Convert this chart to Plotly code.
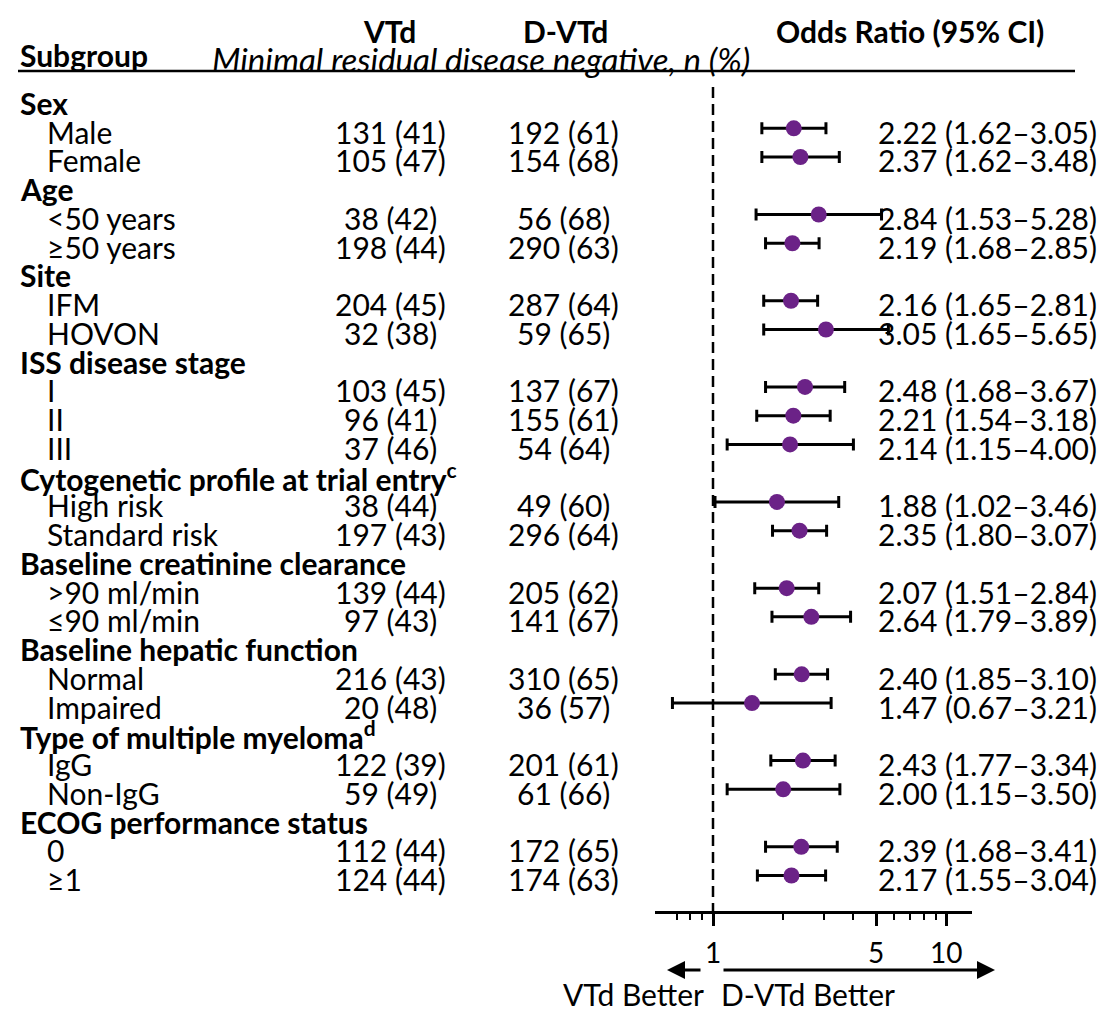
import plotly.graph_objects as go
import math

# ---------------- data ----------------
labels = ["Sex", "Male", "Female",
          "Age", "&lt;50 years", "≥50 years",
          "Site", "IFM", "HOVON",
          "ISS disease stage", "I", "II", "III",
          "Cytogenetic profile at trial entry<sup>c</sup>", "High risk", "Standard risk",
          "Baseline creatinine clearance", "&gt;90 ml/min", "≤90 ml/min",
          "Baseline hepatic function", "Normal", "Impaired",
          "Type of multiple myeloma<sup>d</sup>", "IgG", "Non-IgG",
          "ECOG performance status", "0", "≥1"]
is_header = [True, False, False,
             True, False, False,
             True, False, False,
             True, False, False, False,
             True, False, False,
             True, False, False,
             True, False, False,
             True, False, False,
             True, False, False]
vtd = ["", "131 (41)", "105 (47)",
       "", "38 (42)", "198 (44)",
       "", "204 (45)", "32 (38)",
       "", "103 (45)", "96 (41)", "37 (46)",
       "", "38 (44)", "197 (43)",
       "", "139 (44)", "97 (43)",
       "", "216 (43)", "20 (48)",
       "", "122 (39)", "59 (49)",
       "", "112 (44)", "124 (44)"]
dvtd = ["", "192 (61)", "154 (68)",
        "", "56 (68)", "290 (63)",
        "", "287 (64)", "59 (65)",
        "", "137 (67)", "155 (61)", "54 (64)",
        "", "49 (60)", "296 (64)",
        "", "205 (62)", "141 (67)",
        "", "310 (65)", "36 (57)",
        "", "201 (61)", "61 (66)",
        "", "172 (65)", "174 (63)"]
odds = [None, 2.22, 2.37,
        None, 2.84, 2.19,
        None, 2.16, 3.05,
        None, 2.48, 2.21, 2.14,
        None, 1.88, 2.35,
        None, 2.07, 2.64,
        None, 2.40, 1.47,
        None, 2.43, 2.00,
        None, 2.39, 2.17]
ci_lo = [None, 1.62, 1.62,
         None, 1.53, 1.68,
         None, 1.65, 1.65,
         None, 1.68, 1.54, 1.15,
         None, 1.02, 1.80,
         None, 1.51, 1.79,
         None, 1.85, 0.67,
         None, 1.77, 1.15,
         None, 1.68, 1.55]
ci_hi = [None, 3.05, 3.48,
         None, 5.28, 2.85,
         None, 2.81, 5.65,
         None, 3.67, 3.18, 4.00,
         None, 3.46, 3.07,
         None, 2.84, 3.89,
         None, 3.10, 3.21,
         None, 3.34, 3.50,
         None, 3.41, 3.04]
tick_vals = [1, 5, 10]
tick_text = ["1", "5", "10"]
minor_vals = [0.7, 0.8, 0.9, 2, 3, 4, 6, 7, 8, 9]

# ---------------- figure ----------------
W, H = 1100, 1013
FONT = "Lato"
FS = 30
PURPLE = "#6B2287"

rows = list(range(len(labels)))
pt_rows = [r for r in rows if odds[r] is not None]
xs = [odds[r] for r in pt_rows]
plus = [ci_hi[r] - odds[r] for r in pt_rows]
minus = [odds[r] - ci_lo[r] for r in pt_rows]
ys = [r - 0.12 for r in pt_rows]

fig = go.Figure()

# reference line at OR = 1
fig.add_trace(go.Scatter(x=[1, 1], y=[-0.56, 28.6], mode="lines",
                         line=dict(color="black", width=2.5, dash="11px,6px"),
                         hoverinfo="skip", showlegend=False, cliponaxis=False))

fig.add_trace(go.Scatter(
    x=xs, y=ys, mode="markers",
    marker=dict(color=PURPLE, size=16, symbol="circle"),
    error_x=dict(type="data", symmetric=False, array=plus, arrayminus=minus,
                 color="black", thickness=3, width=6),
    showlegend=False, cliponaxis=False))

def px(x):
    return x / W

def py(y):
    return 1 - y / H

ann = []
for r in rows:
    if is_header[r]:
        ann.append(dict(x=px(18), y=r, xref="paper", yref="y", text="<b>" + labels[r] + "</b>",
                        xanchor="left", yanchor="middle", showarrow=False))
    else:
        ann.append(dict(x=px(45), y=r, xref="paper", yref="y", text=labels[r],
                        xanchor="left", yanchor="middle", showarrow=False))
        ann.append(dict(x=px(390), y=r, xref="paper", yref="y", text=vtd[r],
                        xanchor="center", yanchor="middle", showarrow=False))
        ann.append(dict(x=px(563), y=r, xref="paper", yref="y", text=dvtd[r],
                        xanchor="center", yanchor="middle", showarrow=False))
        ann.append(dict(x=px(876), y=r, xref="paper", yref="y",
                        text=f"{odds[r]:.2f} ({ci_lo[r]:.2f}–{ci_hi[r]:.2f})",
                        xanchor="left", yanchor="middle", showarrow=False))

# headers
ann += [
    dict(x=px(389), y=py(31), xref="paper", yref="paper", text="<b>VTd</b>",
         xanchor="center", yanchor="middle", showarrow=False),
    dict(x=px(565), y=py(31), xref="paper", yref="paper", text="<b>D-VTd</b>",
         xanchor="center", yanchor="middle", showarrow=False),
    dict(x=px(910), y=py(31), xref="paper", yref="paper", text="<b>Odds Ratio (95% CI)</b>",
         xanchor="center", yanchor="middle", showarrow=False),
    dict(x=px(18), y=py(55), xref="paper", yref="paper", text="<b>Subgroup</b>",
         xanchor="left", yanchor="middle", showarrow=False),
    dict(x=px(210), y=py(59), xref="paper", yref="paper",
         text="<i>Minimal residual disease negative, n (%)</i>",
         xanchor="left", yanchor="middle", showarrow=False, font=dict(size=33)),
    # direction labels
    dict(x=px(633), y=py(994), xref="paper", yref="paper", text="VTd Better",
         xanchor="center", yanchor="middle", showarrow=False, font=dict(size=30)),
    dict(x=px(808), y=py(994), xref="paper", yref="paper", text="D-VTd Better",
         xanchor="center", yanchor="middle", showarrow=False, font=dict(size=30)),
    # arrows
    dict(x=px(667), y=py(970), ax=35, ay=0, xref="paper", yref="paper",
         axref="pixel", ayref="pixel", text="", showarrow=True, arrowhead=2,
         arrowsize=1.2, arrowwidth=3, arrowcolor="black"),
    dict(x=px(995), y=py(970), ax=-273, ay=0, xref="paper", yref="paper",
         axref="pixel", ayref="pixel", text="", showarrow=True, arrowhead=2,
         arrowsize=1.2, arrowwidth=3, arrowcolor="black"),
]

shapes = [
    dict(type="line", xref="paper", yref="paper", x0=px(18), x1=px(1075),
         y0=py(71), y1=py(71), line=dict(color="black", width=2.5)),
]

row_px0, row_dy = 103, 28.74
axis_px = 911
r_top = -row_px0 / row_dy
r_bot = (axis_px - row_px0) / row_dy

fig.update_layout(
    width=W, height=H,
    margin=dict(l=0, r=0, t=0, b=0),
    paper_bgcolor="white", plot_bgcolor="white",
    font=dict(family=FONT, size=FS, color="black"),
    annotations=ann, shapes=shapes,
    xaxis=dict(type="log",
               range=[math.log10(0.564), math.log10(12.9)],
               domain=[655 / W, 972 / W],
               showgrid=False, zeroline=False,
               showline=True, linewidth=2.5, linecolor="black",
               ticks="outside", ticklen=12, tickwidth=2.5, tickcolor="black",
               tickvals=tick_vals, ticktext=tick_text,
               tickfont=dict(size=28), ticklabelstandoff=4,
               minor=dict(tickvals=minor_vals, ticks="outside", ticklen=6,
                          tickwidth=2, tickcolor="black", showgrid=False),
               fixedrange=True),
    yaxis=dict(range=[r_bot, r_top], domain=[(H - axis_px) / H, 1],
               visible=False, fixedrange=True),
)

fig.write_html("out.html")
